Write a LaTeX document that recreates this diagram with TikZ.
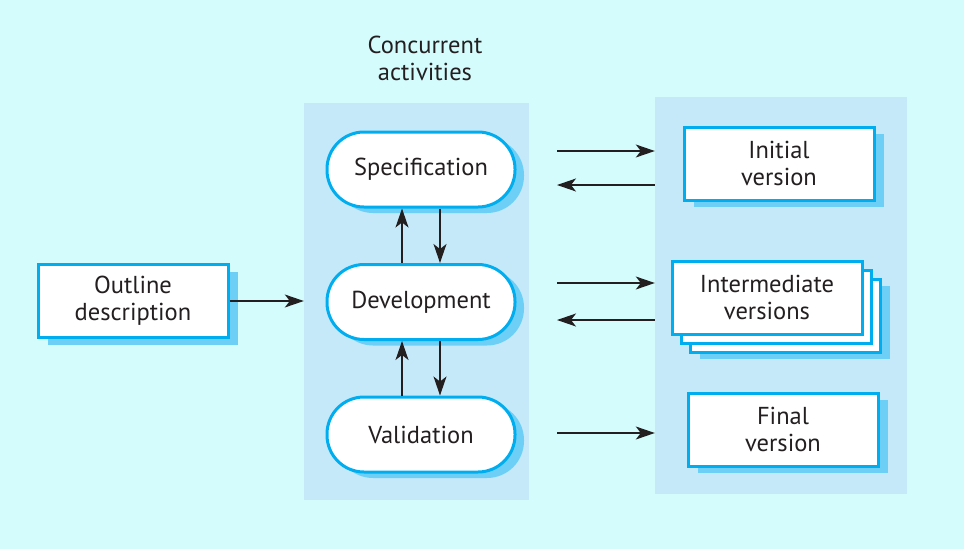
\documentclass[tikz,border=0pt]{standalone}
\usepackage{fontspec}
\setmainfont{PT Sans}
\usetikzlibrary{positioning,arrows.meta,shadows}
\definecolor{bgcyan}{RGB}{213,252,253}
\definecolor{panelblue}{RGB}{198,233,250}
\definecolor{lineblue}{RGB}{0,174,239}
\definecolor{shadeblue}{RGB}{109,207,246}
\definecolor{ink}{RGB}{35,31,32}
\tikzset{activity/.style={draw=lineblue,line width=3pt,fill=white,rounded corners=37pt,
           minimum width=188pt,minimum height=75pt,align=center,text=ink,font=\fontsize{24.5}{27}\selectfont,
           general shadow={fill=shadeblue,shadow xshift=9pt,shadow yshift=-6pt}},
         version/.style={draw=lineblue,line width=3pt,fill=white,minimum width=190pt,
           minimum height=73pt,align=center,text=ink,font=\fontsize{24.5}{27}\selectfont},
         shaded/.style={general shadow={fill=shadeblue,shadow xshift=10pt,shadow yshift=-7pt}},
         panel/.style={fill=panelblue,inner sep=0pt,minimum width=#1,minimum height=397pt},
         line/.style={-{Stealth[length=19pt,width=13pt,inset=5pt]},line width=1.2pt,draw=ink}
     }

\begin{document}
\begin{tikzpicture}[x=1pt,y=-1pt]
\fill[bgcyan] (0,0) rectangle (964,549);
\useasboundingbox (0,0) rectangle (964,549);
% the two panels
\node[panel=225pt] (mid) at (416.5,301.5) {};
\node[panel=252pt] (right) at (781,295.5) {};
\node[text=ink,font=\fontsize{24.5}{27}\selectfont,align=center] (title) at (425,58) {Concurrent\\activities};
% activities
\node[activity] (spec) at (421,169.5) {Specification};
\node[activity] (dev) at (421,302) {Development};
\node[activity] (val) at (421,434.5) {Validation};
% versions
\node[version,shaded] (outline) at (133,301) {Outline\\description};
\node[version,shaded] (init) at (779,163.5) {Initial\\version};
\node[version,shaded] (inter3) at (785,315.5) {};
\node[version] (inter2) at (776,306.5) {};
\node[version] (inter) at (767,297.5) {Intermediate\\versions};
\node[version,shaded] (final) at (783,429.5) {Final\\version};
% connectors
\draw[line] (outline) -- (outline.east -| mid.west);
\draw[line] ([xshift=-19pt]dev.north) -- ([xshift=-19pt]spec.south);
\draw[line] ([xshift=19pt]spec.south) -- ([xshift=19pt]dev.north);
\draw[line] ([xshift=-19pt]val.north) -- ([xshift=-19pt]dev.south);
\draw[line] ([xshift=19pt]dev.south) -- ([xshift=19pt]val.north);
\coordinate (s1) at (557,151);
\coordinate (s2) at (557,185);
\coordinate (d1) at (557,283);
\coordinate (d2) at (557,320);
\coordinate (v1) at (557,433);
\draw[line] (s1) -- (s1 -| right.west);
\draw[line] (s2 -| right.west) -- (s2);
\draw[line] (d1) -- (d1 -| right.west);
\draw[line] (d2 -| right.west) -- (d2);
\draw[line] (v1) -- (v1 -| right.west);
\end{tikzpicture}
\end{document}
